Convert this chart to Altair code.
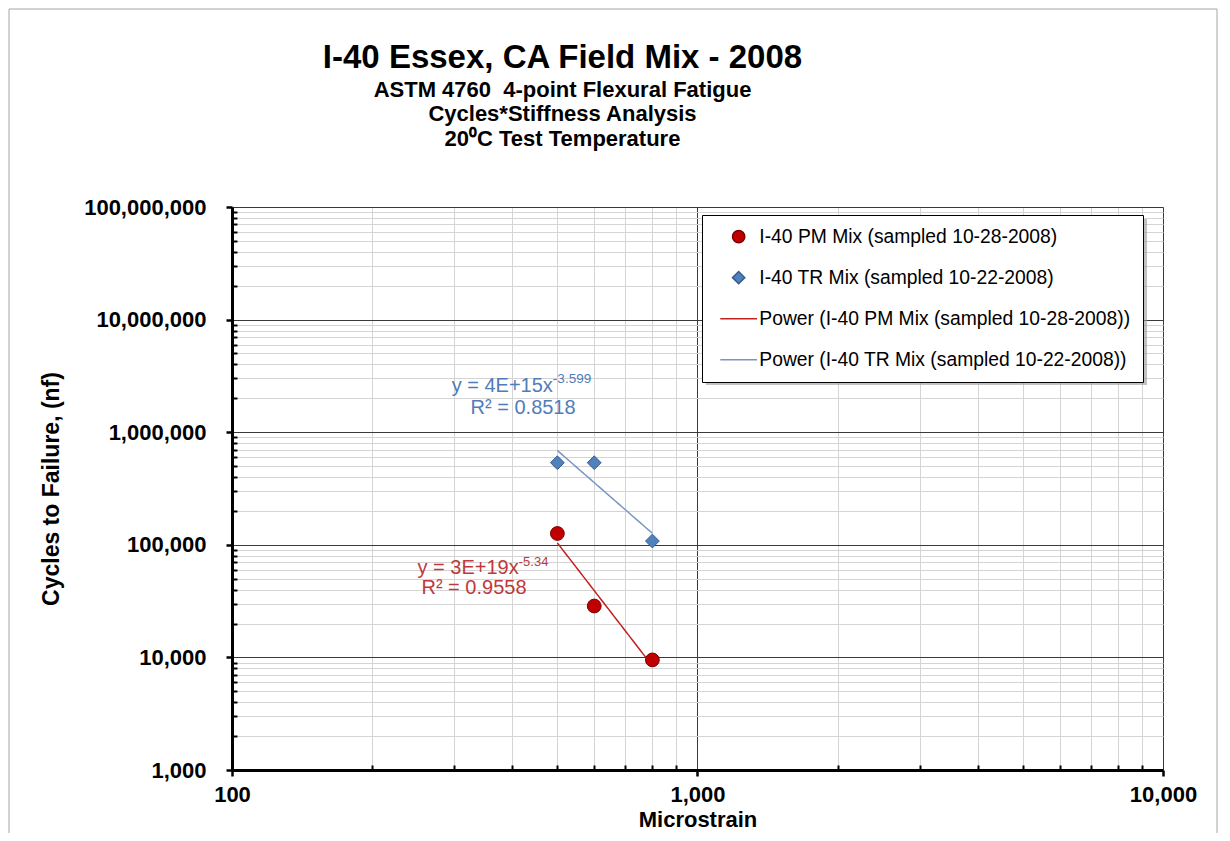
import altair as alt
import pandas as pd

FONT = "Liberation Sans"

# ---------------- data ----------------
strain = [500, 600, 800]
pm_cycles = [126000, 28600, 9500]
tr_cycles = [536000, 536000, 108000]

PM = "I-40 PM Mix (sampled 10-28-2008)"
TR = "I-40 TR Mix (sampled 10-22-2008)"
PPM = "Power (I-40 PM Mix (sampled 10-28-2008))"
PTR = "Power (I-40 TR Mix (sampled 10-22-2008))"
series_names = [PM, TR, PPM, PTR]

x_major = [100, 1000, 10000]
x_minor = [200, 300, 400, 500, 600, 700, 800, 900,
           2000, 3000, 4000, 5000, 6000, 7000, 8000, 9000]
y_major = [1000, 10000, 100000, 1000000, 10000000, 100000000]
y_minor = [m * d for d in [1000, 10000, 100000, 1000000, 10000000] for m in range(2, 10)]

title_text = "I-40 Essex, CA Field Mix - 2008"
subtitle_lines = ["ASTM 4760\u00a0 4-point Flexural Fatigue",
                  "Cycles*Stiffness Analysis",
                  "20\u2070C Test Temperature"]

tr_eq, tr_exp, tr_r2 = "y = 4E+15x", "-3.599", "R\u00b2 = 0.8518"
pm_eq, pm_exp, pm_r2 = "y = 3E+19x", "-5.34", "R\u00b2 = 0.9558"

# annotation anchors (data space)
tr_eq_at = (489, 2570000)
tr_r2_at = (422, 1640000)
pm_eq_at = (413, 62200)
pm_r2_at = (331, 41300)

# ---------------- chart ----------------
pts = pd.DataFrame({
    "strain": strain + strain,
    "cycles": pm_cycles + tr_cycles,
    "series": [PM] * 3 + [TR] * 3,
})

xs = alt.Scale(type="log", domain=[100, 10000], nice=False)
ys = alt.Scale(type="log", domain=[1000, 100000000], nice=False)

legend = alt.Legend(
    title=None, orient="none", legendX=470, legendY=8,
    fillColor="white", strokeColor="black", padding=12, rowPadding=21,
    labelFont=FONT, labelFontSize=19.3, labelColor="black", labelLimit=0,
    symbolSize=150, symbolStrokeWidth=1.5, symbolOffset=15, labelOffset=11,
    symbolOpacity=1,
)

fill_scale = alt.Scale(domain=series_names, range=["#C00000", "#4F81BD", "#C00000", "#4F81BD"])
stroke_scale = alt.Scale(domain=series_names, range=["#7A0000", "#385D8A", "#C02020", "#7896C3"])
shape_scale = alt.Scale(domain=series_names, range=["circle", "diamond", "M-3,0L3,0", "M-3,0L3,0"])

major_x_axis = alt.Axis(
    orient="bottom", values=x_major, format=",", labelFontSize=22, labelFontWeight="bold",
    labelPadding=8, labelFlush=False, labelOverlap=False, grid=True, gridColor="#3A3A3A",
    gridWidth=1, domainColor="black", domainWidth=3, tickColor="black", tickWidth=2.5,
    tickSize=6, title="Microstrain", titleFontSize=22, titleFontWeight="bold", titlePadding=4,
)
major_y_axis = alt.Axis(
    orient="left", values=y_major, format=",", labelFontSize=22, labelFontWeight="bold",
    labelPadding=20, labelOverlap=False, grid=True, gridColor="#3A3A3A", gridWidth=1,
    domainColor="black", domainWidth=3, tickColor="black", tickWidth=2.5, tickSize=6,
    title="Cycles to Failure, (nf)", titleFontSize=23, titleFontWeight="bold", titlePadding=20,
)
minor_x_axis = alt.Axis(
    orient="bottom", values=x_minor, labels=False, grid=True, gridColor="#D4D4D4", gridWidth=1,
    domain=False, ticks=True, tickColor="black", tickWidth=2, tickSize=4, offset=-5, title=None,
)
minor_y_axis = alt.Axis(
    orient="left", values=y_minor, labels=False, grid=True, gridColor="#D4D4D4", gridWidth=1,
    domain=False, ticks=True, tickColor="black", tickWidth=2, tickSize=4, offset=-5, title=None,
)

trend = alt.Chart(pts).transform_regression(
    "strain", "cycles", method="pow", groupby=["series"]
).transform_calculate(
    series="'Power (' + datum.series + ')'"
).mark_line(strokeWidth=1.5).encode(
    x=alt.X("strain:Q", scale=xs, axis=minor_x_axis),
    y=alt.Y("cycles:Q", scale=ys, axis=minor_y_axis),
    stroke=alt.Stroke("series:N", scale=stroke_scale, legend=legend),
)

points = alt.Chart(pts).mark_point(filled=True, size=190, strokeWidth=1, opacity=1).encode(
    x=alt.X("strain:Q", scale=xs, axis=major_x_axis),
    y=alt.Y("cycles:Q", scale=ys, axis=major_y_axis),
    fill=alt.Fill("series:N", scale=fill_scale, legend=legend),
    stroke=alt.Stroke("series:N", scale=stroke_scale, legend=legend),
    shape=alt.Shape("series:N", scale=shape_scale, legend=legend),
)


def label(text, at, color, size, align, dy=0):
    df = pd.DataFrame({"t": [text], "x": [at[0]], "y": [at[1]]})
    return alt.Chart(df).mark_text(
        font=FONT, fontSize=size, color=color, align=align, baseline="middle", dy=dy
    ).encode(
        x=alt.X("x:Q", scale=xs, axis=None),
        y=alt.Y("y:Q", scale=ys, axis=None),
        text="t:N",
    )


BLUE_T = "#4F7DB9"
RED_T = "#C0393B"
texts = [
    label(tr_eq, tr_eq_at, BLUE_T, 20, "right"),
    label(tr_exp, tr_eq_at, BLUE_T, 13.5, "left", dy=-7),
    label(tr_r2, tr_r2_at, BLUE_T, 20, "center"),
    label(pm_eq, pm_eq_at, RED_T, 20, "right"),
    label(pm_exp, pm_eq_at, RED_T, 13, "left", dy=-6),
    label(pm_r2, pm_r2_at, RED_T, 20, "center"),
]

one = pd.DataFrame({"k": [0]})
frame = alt.Chart(one).mark_rect(fillOpacity=0, stroke="#A6A6A6", strokeWidth=1).encode(
    x=alt.value(-223), x2=alt.value(985), y=alt.value(-198), y2=alt.value(700)
)
shadow = alt.Chart(one).mark_rect(fill="#9A9A9A", opacity=0.6).encode(
    x=alt.value(474), x2=alt.value(915), y=alt.value(12), y2=alt.value(178)
)

# the chart frame's top edge (at -198.5) is the top of the view bounds,
# so the title offset is measured from there
chart = alt.layer(trend, points, *texts, frame, shadow).resolve_axis(
    x="independent", y="independent"
).properties(
    width=931, height=563,
    padding={"left": 224, "top": 199, "right": 55, "bottom": 63},
    autosize=alt.AutoSizeParams(type="none"),
    title=alt.TitleParams(
        text=title_text, subtitle=subtitle_lines, font=FONT, fontSize=33, fontWeight="bold",
        color="black", subtitleFont=FONT, subtitleFontSize=22, subtitleFontWeight="bold",
        subtitleColor="black", subtitleLineHeight=24.5, subtitlePadding=5,
        anchor="middle", frame="group", dx=-135, offset=-141,
    ),
).configure_axis(
    labelFont=FONT, titleFont=FONT, labelColor="black", titleColor="black",
).configure_view(stroke=None)

chart.save("out.html", embed_options={"renderer": "svg", "actions": False})
